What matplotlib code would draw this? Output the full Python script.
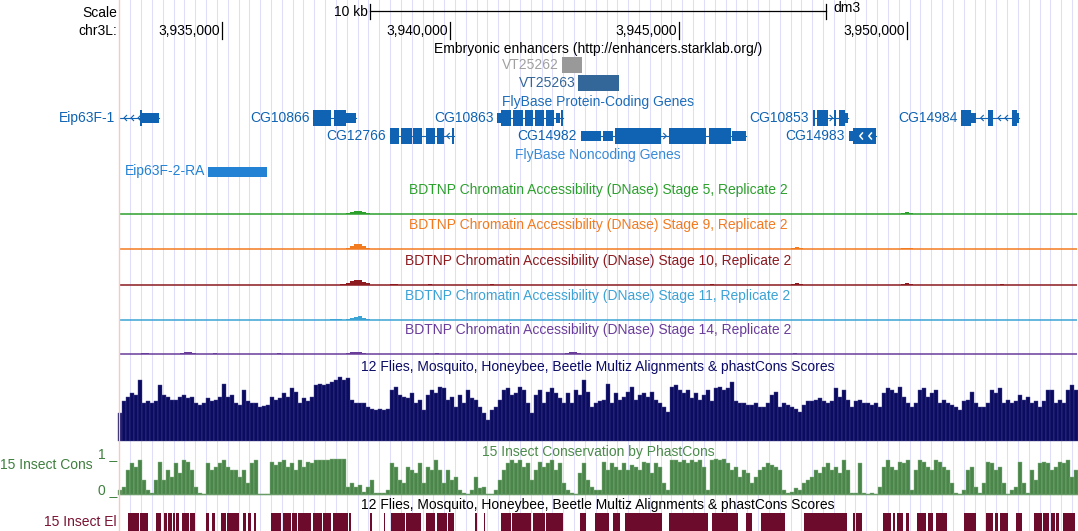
import matplotlib
matplotlib.use('Agg')
import matplotlib.pyplot as plt
from matplotlib.patches import Rectangle

plt.rcParams['font.family'] = ['Liberation Sans', 'DejaVu Sans']
FS = 10

# ---------------- data ----------------
chrom_label = 'chr3L:'
assembly = 'dm3'
tick_kb = [3935.0, 3940.0, 3945.0, 3950.0]
tick_labels = ['3,935,000', '3,940,000', '3,945,000', '3,950,000']
scale_bar_kb = 10.0
scale_bar_label = '10 kb'

enh_names = ['VT25262', 'VT25263']
enh_start = [3942.439, 3942.802]
enh_end = [3942.877, 3943.693]
enh_box_colors = ['#999999', '#336699']
enh_text_colors = ['#a0a0a0', '#336699']

gene_names = ['Eip63F-1', 'CG10866', 'CG12766', 'CG10863', 'CG14982', 'CG10853', 'CG14983', 'CG14984']
gene_rows = [0, 0, 1, 0, 1, 0, 1, 0]
gene_strands = ['-', '+', '-', '+', '+', '+', '-', '-']
gene_tx = [(3932.50, 3933.620), (3937.001, 3937.928), (3938.683, 3940.091), (3941.029, 3942.461),
           (3942.855, 3946.475), (3947.937, 3948.704), (3948.728, 3949.313), (3951.191, 3952.446)]
# (start kb, end kb, 'c' = coding / 'u' = UTR)
gene_exons = [
    [(3933.215, 3933.250, 'c'), (3933.250, 3933.620, 'u')],
    [(3937.001, 3937.378, 'c'), (3937.453, 3937.715, 'c'), (3937.715, 3937.928, 'u')],
    [(3938.683, 3938.872, 'c'), (3938.924, 3939.150, 'c'), (3939.187, 3939.375, 'c'),
     (3939.467, 3939.655, 'c'), (3939.715, 3939.866, 'c'), (3940.032, 3940.091, 'c')],
    [(3941.029, 3941.103, 'u'), (3941.103, 3941.335, 'c'), (3941.379, 3941.585, 'c'),
     (3941.635, 3941.817, 'c'), (3941.861, 3942.051, 'c'), (3942.095, 3942.270, 'c'),
     (3942.314, 3942.402, 'u'), (3942.430, 3942.461, 'c')],
    [(3942.855, 3943.293, 'u'), (3943.350, 3943.569, 'u'), (3943.599, 3944.607, 'c'),
     (3944.795, 3945.599, 'c'), (3945.671, 3946.139, 'c'), (3946.168, 3946.475, 'u')],
    [(3947.937, 3947.975, 'c'), (3948.036, 3948.277, 'c'), (3948.410, 3948.441, 'c'),
     (3948.502, 3948.642, 'c'), (3948.642, 3948.704, 'u')],
    [(3948.728, 3948.818, 'u'), (3948.818, 3949.313, 'c')],
    [(3951.191, 3951.402, 'c'), (3951.402, 3951.507, 'u'), (3951.778, 3951.883, 'c'),
     (3952.295, 3952.398, 'c'), (3952.398, 3952.446, 'u')],
]

nc_name = 'Eip63F-2-RA'
nc_start, nc_end = 3934.700, 3935.983

bd_titles = ['BDTNP Chromatin Accessibility (DNase) Stage 5, Replicate 2',
             'BDTNP Chromatin Accessibility (DNase) Stage 9, Replicate 2',
             'BDTNP Chromatin Accessibility (DNase) Stage 10, Replicate 2',
             'BDTNP Chromatin Accessibility (DNase) Stage 11, Replicate 2',
             'BDTNP Chromatin Accessibility (DNase) Stage 14, Replicate 2']
bd_colors = ['#2ca02c', '#f27b1f', '#8c1a1f', '#3ca3d5', '#6a3d9a']
# (start kb, signal per bin)
bd_stage5 = [(3937.715, [1, 2, 2.5, 2.5, 2, 1]), (3949.870, [1, 1.5, 1])]
bd_stage9 = [(3937.715, [1.5, 3, 5, 5, 3, 1.5]), (3947.460, [1, 2, 1]), (3949.870, [1, 1.5, 1])]
bd_stage10 = [(3937.580, [1, 1]), (3937.715, [1.5, 3.5, 5, 5, 3, 1.5]), (3938.680, [1, 1]),
              (3939.510, [1]), (3940.870, [1]), (3945.690, [1]), (3947.460, [1, 2, 1]),
              (3949.870, [1, 2, 1]), (3952.040, [1])]
bd_stage11 = [(3937.365, [1, 1, 1]), (3937.715, [1, 2, 3, 4, 2.5, 1])]
bd_stage14 = [(3933.226, [1, 1]), (3934.080, [1, 2, 2, 1]), (3934.803, [1]), (3936.204, [1]),
              (3937.715, [1, 2, 2, 2, 1]), (3939.664, [1]), (3942.511, [1, 2, 2, 1]), (3947.504, [1])]

multiz = [42, 60, 67, 72, 70, 92, 57, 60, 57, 60, 85, 70, 67, 62, 62, 67, 70, 65, 67, 57,
          55, 57, 65, 60, 62, 67, 87, 67, 70, 57, 55, 77, 60, 57, 57, 52, 53, 55, 67, 62,
          65, 72, 67, 80, 75, 57, 65, 60, 67, 85, 87, 85, 87, 90, 92, 97, 92, 95, 62, 57, 57,
          57, 52, 49, 47, 49, 47, 49, 77, 82, 70, 67, 65, 72, 57, 62, 47, 70, 77, 72, 82,
          80, 62, 67, 52, 70, 57, 77, 65, 62, 52, 42, 32, 47, 52, 62, 77, 80, 70, 72, 82,
          77, 57, 42, 70, 77, 57, 75, 80, 72, 65, 57, 72, 57, 77, 70, 92, 75, 52, 57, 60,
          62, 87, 57, 72, 62, 67, 75, 82, 62, 70, 72, 67, 75, 62, 57, 52, 44, 82, 85, 77,
          72, 77, 65, 72, 62, 70, 77, 60, 80, 82, 77, 80, 90, 60, 57, 57, 55, 55, 57, 52,
          52, 57, 70, 75, 52, 57, 55, 52, 49, 44, 55, 60, 60, 62, 65, 60, 57, 60, 80, 67,
          77, 62, 52, 60, 62, 57, 57, 55, 57, 52, 72, 80, 77, 72, 82, 67, 57, 52, 57, 77,
          80, 67, 72, 77, 57, 62, 57, 55, 52, 47, 60, 62, 75, 57, 52, 52, 57, 77, 72, 80,
          57, 62, 57, 60, 70, 62, 67, 57, 60, 52, 60, 77, 77, 57, 62, 57, 77, 85, 77]

phastcons = [13, 23, 70, 89, 79, 98, 42, 13, 4, 42, 93, 42, 70, 51, 89, 60, 98, 93, 70, 23,
             4, 2, 89, 70, 79, 89, 98, 79, 70, 70, 51, 70, 32, 89, 98, 2, 2, 2, 93, 84,
             93, 98, 79, 89, 70, 98, 79, 93, 89, 98, 98, 98, 98, 100, 100, 100, 100, 23, 32, 23, 27,
             8, 23, 42, 6, 4, 4, 13, 89, 79, 42, 32, 79, 70, 60, 89, 32, 79, 70, 98, 70,
             32, 70, 42, 51, 13, 4, 2, 13, 51, 18, 23, 2, 2, 13, 42, 70, 89, 98, 89, 98,
             79, 89, 42, 70, 93, 79, 89, 98, 70, 89, 32, 13, 4, 2, 60, 89, 42, 23, 13, 13,
             93, 70, 89, 79, 70, 89, 70, 84, 79, 70, 93, 89, 60, 89, 79, 32, 13, 98, 98, 93,
             98, 89, 98, 93, 98, 79, 13, 98, 100, 98, 100, 89, 70, 79, 51, 70, 60, 32, 51, 70,
             79, 89, 84, 79, 70, 13, 4, 8, 18, 13, 32, 42, 51, 70, 60, 79, 89, 70, 79, 60,
             98, 70, 4, 6, 89, 4, 2, 4, 2, 23, 79, 98, 79, 70, 93, 89, 98, 13, 70, 98,
             93, 79, 70, 98, 93, 79, 70, 32, 4, 2, 13, 70, 79, 23, 4, 32, 93, 89, 70, 79,
             32, 2, 13, 23, 93, 32, 4, 70, 42, 89, 93, 89, 70, 79, 93, 89, 98, 51, 70]

el_start = [3932.942, 3933.204, 3933.320, 3933.555, 3933.730, 3933.818, 3933.927, 3933.993,
            3934.124, 3934.293, 3934.650, 3934.781, 3934.972, 3935.116, 3935.291, 3935.453,
            3935.569, 3935.701, 3936.080, 3936.329, 3936.533, 3936.664, 3936.986, 3937.205,
            3937.437, 3937.788, 3938.241, 3938.547, 3938.694, 3939.036, 3939.474, 3939.701,
            3939.949, 3940.547, 3940.737, 3941.103, 3941.350, 3941.810, 3942.102, 3942.833,
            3943.175, 3943.562, 3943.818, 3944.782, 3945.730, 3946.481, 3946.796, 3947.745,
            3948.818, 3948.890, 3949.475, 3949.694, 3949.788, 3949.985, 3950.226, 3950.460,
            3950.642, 3951.248, 3951.737, 3951.921, 3952.030, 3952.394, 3952.781, 3952.978,
            3953.147, 3953.270, 3953.416]
el_end = [3933.176, 3933.307, 3933.380, 3933.658, 3933.802, 3933.905, 3933.977, 3934.065,
          3934.271, 3934.415, 3934.709, 3934.840, 3935.088, 3935.278, 3935.366, 3935.526,
          3935.642, 3935.751, 3936.299, 3936.518, 3936.649, 3936.955, 3937.190, 3937.393,
          3937.759, 3937.818, 3938.285, 3938.576, 3939.001, 3939.364, 3939.671, 3939.934,
          3940.080, 3940.577, 3940.766, 3941.335, 3941.773, 3942.067, 3942.467, 3942.977,
          3943.468, 3943.709, 3944.635, 3945.642, 3946.299, 3946.606, 3947.322, 3948.693,
          3948.855, 3949.015, 3949.656, 3949.744, 3949.913, 3950.037, 3950.423, 3950.570,
          3950.883, 3951.518, 3951.883, 3951.993, 3952.212, 3952.518, 3952.956, 3953.103,
          3953.234, 3953.322, 3953.686]

# ---------------- layout ----------------
W, H = 1078, 531
KB0 = 3930.1386      # kb at pixel column 0
KBPX = 0.021898      # kb per pixel
WIG_START = 3932.7664
WIG_STEP = 0.087592
GRID_START = 3932.9919
GRID_STEP = 0.23702


def kb(p):
    return KB0 + p * KBPX


def px(k):
    return (k - KB0) / KBPX


LEFT, RIGHT = kb(119), kb(1077)
MID = (LEFT + RIGHT) / 2

fig = plt.figure(figsize=(W / 100, H / 100), dpi=100)
ax = fig.add_axes([0, 0, 1, 1])
ax.set_xlim(KB0, KB0 + W * KBPX)
ax.set_ylim(H, 0)
ax.axis('off')


def T(x, y, s, color='black', ha='left', va='center', **kw):
    ax.text(x, y, s, color=color, ha=ha, va=va, fontsize=FS, **kw)


# guidelines
g = GRID_START
while g < RIGHT:
    ax.plot([g, g], [0, H], color='#dedefb', lw=0.75, zorder=0)
    g += GRID_STEP
ax.plot([LEFT, LEFT], [0, H], color='#f6c9c9', lw=1.0, zorder=20)

# scale / position
T(kb(117), 12.7, 'Scale', ha='right')
T(kb(117), 30.7, chrom_label, ha='right')
sb0, sb1 = MID - scale_bar_kb / 2, MID + scale_bar_kb / 2
ax.plot([sb0, sb1], [11, 11], color='black', lw=0.9)
ax.plot([sb0, sb0], [4, 19], color='black', lw=0.9)
ax.plot([sb1, sb1], [4, 19], color='black', lw=0.9)
T(sb0 - 2 * KBPX, 12.3, scale_bar_label, ha='right')
T(sb1 + 7 * KBPX, 8.3, assembly)
for t, lab in zip(tick_kb, tick_labels):
    ax.plot([t, t], [22, 38.5], color='black', lw=0.9)
    T(t - 2 * KBPX, 30.7, lab, ha='right')

# enhancers
T(MID, 49.3, 'Embryonic enhancers (http://enhancers.starklab.org/)', ha='center')
for name, s, e, bc, tc, yc in zip(enh_names, enh_start, enh_end, enh_box_colors, enh_text_colors, [65, 83]):
    ax.add_patch(Rectangle((s, yc - 8), e - s, 16, facecolor=bc, edgecolor='none', zorder=3))
    T(s - 3 * KBPX, yc, name, ha='right', color=tc)

# genes
GC = '#0f63b2'
T(MID, 102, 'FlyBase Protein-Coding Genes', ha='center', color='#1d6cba')
row_y = [118, 136]


def chevron(xp, yc, d, color):
    ax.plot([kb(xp - d * 2.6), kb(xp), kb(xp - d * 2.6)], [yc - 2.6, yc, yc + 2.6],
            color=color, lw=0.8, zorder=5, solid_joinstyle='miter')


for name, row, strand, tx, exons in zip(gene_names, gene_rows, gene_strands, gene_tx, gene_exons):
    yc = row_y[row]
    x0 = max(tx[0], LEFT)
    ax.plot([x0, tx[1]], [yc, yc], color=GC, lw=0.8, zorder=3)
    for s, e, k in exons:
        h = 16 if k == 'c' else 10
        ax.add_patch(Rectangle((s, yc - h / 2), e - s, h, facecolor=GC, edgecolor='none', zorder=4))
    d = -1 if strand == '-' else 1
    edges = [x0] + [v for s, e, k in exons for v in (s, e)] + [tx[1]]
    has_intron = False
    for a, b in zip(edges[0::2], edges[1::2]):
        pa, pb = px(a), px(b)
        L = pb - pa
        if L < 6:
            continue
        has_intron = True
        if L < 14:
            pos = [(pa + pb) / 2 + d * 1.3]
        else:
            pos = []
            p = pa + 5
            while p < pb - 2:
                pos.append(p)
                p += 7
        for p in pos:
            chevron(p, yc, d, GC)
    n_coding = sum(1 for ex in exons if ex[2] == 'c')
    if not has_intron and n_coding == 1:
        big = max(exons, key=lambda ex: ex[1] - ex[0])
        c = px((big[0] + big[1]) / 2)
        for p in (c - 4.5, c + 4.5):
            ax.plot([kb(p - d * 2.6), kb(p), kb(p - d * 2.6)], [yc - 3, yc, yc + 3],
                    color='white', lw=1.1, zorder=6)
    T(x0 - 4 * KBPX, yc, name, ha='right', color=GC)

# noncoding genes
NC = '#2382d4'
T(MID, 155, 'FlyBase Noncoding Genes', ha='center', color='#388ad6')
ax.add_patch(Rectangle((nc_start, 166.5), nc_end - nc_start, 10, facecolor=NC, edgecolor='none', zorder=4))
T(nc_start - 3 * KBPX, 171.5, nc_name, ha='right', color=NC)

# BDTNP tracks
bd_base = [213.7, 249.3, 284.7, 320.0, 354.3]
for title, color, base, bumps in zip(bd_titles, bd_colors, bd_base,
                                      [bd_stage5, bd_stage9, bd_stage10, bd_stage11, bd_stage14]):
    T(MID, base - 24, title, ha='center', color=color)
    ax.plot([LEFT, RIGHT], [base, base], color=color, lw=1.1, zorder=3, solid_capstyle='butt')
    for s, vals in bumps:
        xs = [s + i * WIG_STEP for i in range(len(vals))]
        ax.bar(xs, vals, width=WIG_STEP, bottom=[base - v for v in vals], align='edge',
               color=color, edgecolor='none', zorder=3)

# multiz conservation
NAVY = '#0b0b62'
T(MID, 366.7, '12 Flies, Mosquito, Honeybee, Beetle Multiz Alignments & phastCons Scores',
  ha='center', color='#0b0b66')
xs = [WIG_START + i * WIG_STEP for i in range(len(multiz))]
mh = [v / 100 * 66 for v in multiz]
ax.bar(xs, mh, width=WIG_STEP, bottom=[441 - h for h in mh], color=NAVY,
       edgecolor='#4a4a8c', linewidth=0.3, zorder=3)

# phastCons
GREEN = '#4a864a'
T(MID, 451.7, '15 Insect Conservation by PhastCons', ha='center', color='#4a8a4a')
xs = [WIG_START + i * WIG_STEP for i in range(len(phastcons))]
ph = [v / 100 * 35.5 for v in phastcons]
ax.bar(xs, ph, width=WIG_STEP, bottom=[494.7 - h for h in ph], color=GREEN,
       edgecolor='#8fb88f', linewidth=0.3, zorder=3)
ax.plot([LEFT, RIGHT], [494.3, 494.3], color='#6a9c6a', lw=0.9, zorder=3)
T(kb(92.3), 465, '15 Insect Cons', ha='right', color='#3f7f3f')
T(kb(117), 458, '1 _', ha='right', va='baseline', color='#3f7f3f')
T(kb(117), 494, '0 _', ha='right', va='baseline', color='#3f7f3f')

# conserved elements
MAROON = '#6c0b2b'
T(MID, 505, '12 Flies, Mosquito, Honeybee, Beetle Multiz Alignments & phastCons Scores', ha='center')
for s, e in zip(el_start, el_end):
    ax.add_patch(Rectangle((s, 513), e - s, 20, facecolor=MAROON, edgecolor='none', zorder=3))
T(kb(117), 521.7, '15 Insect El', ha='right', color='#7a1232')

fig.savefig('out.png', dpi=100)
